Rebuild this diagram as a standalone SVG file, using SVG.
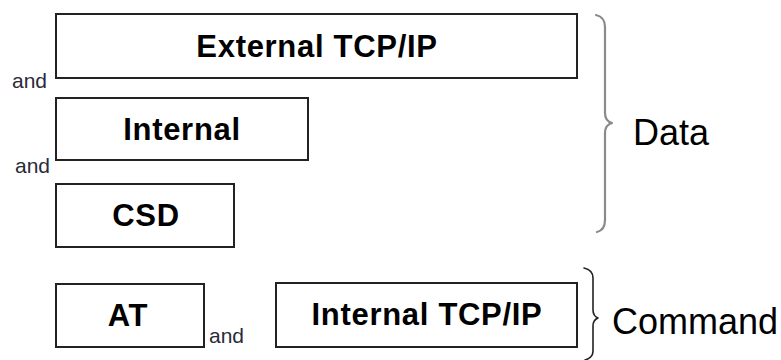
<svg xmlns="http://www.w3.org/2000/svg" width="781" height="360" viewBox="0 0 781 360">
  <style>
    .box { fill: #ffffff; stroke: #222222; stroke-width: 2; }
    .lbl { font-family: "Liberation Sans", Arial, sans-serif; font-weight: bold; font-size: 31px; fill: #000000; text-anchor: middle; letter-spacing: 0.7px; }
    .and { font-family: "Liberation Sans", Arial, sans-serif; font-size: 21px; fill: #2a2a3a; }
    .grp { font-family: "Liberation Sans", Arial, sans-serif; font-size: 36px; fill: #000000; }
    .brace { fill: none; stroke-linecap: round; stroke-linejoin: round; }
  </style>
  <rect width="781" height="360" fill="#ffffff"/>

  <g id="external-tcpip">
    <rect class="box" x="56" y="14" width="521" height="64"/>
    <text class="lbl" x="317" y="57">External TCP/IP</text>
  </g>
  <g id="internal">
    <rect class="box" x="56" y="98" width="252" height="62"/>
    <text class="lbl" x="182" y="140">Internal</text>
  </g>
  <g id="csd">
    <rect class="box" x="56" y="184" width="178" height="63"/>
    <text class="lbl" x="146" y="226">CSD</text>
  </g>
  <g id="at">
    <rect class="box" x="56" y="284" width="148" height="63"/>
    <text class="lbl" x="128" y="326">AT</text>
  </g>
  <g id="internal-tcpip">
    <rect class="box" x="276" y="283" width="301" height="64"/>
    <text class="lbl" x="427" y="325">Internal TCP/IP</text>
  </g>

  <g id="and-labels">
    <text class="and" x="12" y="88">and</text>
    <text class="and" x="15" y="173">and</text>
    <text class="and" x="209" y="343">and</text>
  </g>

  <g id="connectors">
    <!-- brace grouping the data channels -->
    <path class="brace" stroke="#8a8a8a" stroke-width="2.2" d="M596,15 Q605,17 605,27 L605,113 Q605,121 612,123 Q605,125 605,133 L605,220 Q605,230 597,232"/>
    <!-- brace grouping the command channels -->
    <path class="brace" stroke="#222222" stroke-width="1.6" d="M584,268 Q593,270 593,278 L593,310 Q593,316 598,318 Q593,320 593,326 L593,351 Q593,358 585,360"/>
  </g>

  <g id="group-labels">
    <text class="grp" x="633" y="145">Data</text>
    <text class="grp" x="612" y="334">Command</text>
  </g>
</svg>
